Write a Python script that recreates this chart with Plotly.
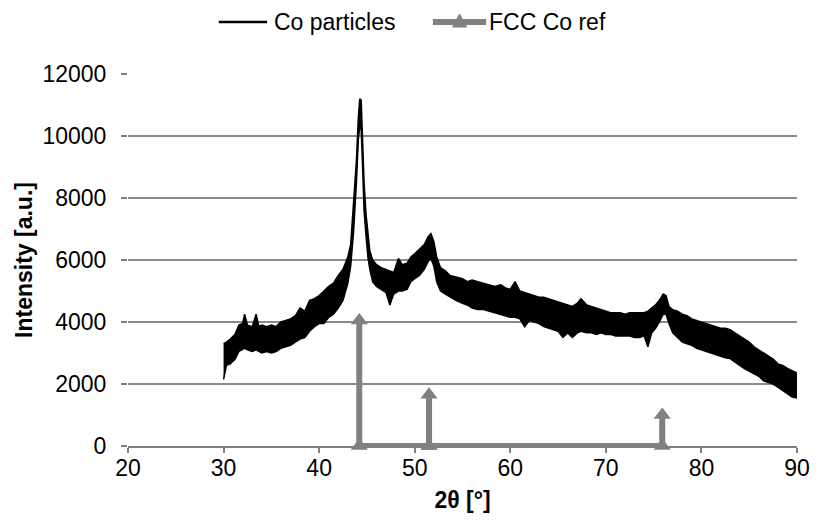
import plotly.graph_objects as go

# --- Co particles XRD pattern: envelope of the noisy band ---
two_theta = [30.0, 30.3, 30.7, 31.2, 31.6, 32.0, 32.2, 32.5, 33.0, 33.4, 33.7, 34.0, 34.5, 35.0, 35.5,
             36.0, 36.5, 37.0, 37.5, 38.0, 38.5, 39.0, 39.5, 40.0, 40.5, 41.0, 41.5, 42.0, 42.5, 43.0,
             43.3, 43.6, 43.9, 44.1, 44.25, 44.4, 44.55, 44.7, 44.9, 45.1, 45.3, 45.6, 46.0, 46.5, 47.0,
             47.4, 47.8, 48.3, 48.7, 49.2, 49.6, 50.0, 50.5, 51.0, 51.4, 51.7, 52.0, 52.3, 52.7, 53.2,
             53.7, 54.3, 55.0, 55.5, 56.0, 56.6, 57.2, 57.8, 58.4, 59.0, 59.5, 60.0, 60.5, 61.0, 61.5,
             62.0, 62.5, 63.0, 63.5, 64.0, 64.5, 65.0, 65.5, 66.0, 66.5, 67.0, 67.4, 68.0, 68.5, 69.0,
             69.5, 70.0, 70.5, 71.0, 71.5, 72.0, 72.5, 73.0, 73.5, 74.0, 74.4, 74.8, 75.2, 75.6, 76.0,
             76.3, 76.6, 77.0, 77.5, 78.0, 78.5, 79.0, 79.5, 80.0, 80.5, 81.0, 81.5, 82.0, 82.5, 83.0,
             83.5, 84.0, 84.5, 85.0, 85.5, 86.0, 86.5, 87.0, 87.5, 88.0, 88.5, 89.0, 89.5, 90.0]
intensity_low = [2150, 2600, 2650, 2800, 3050, 3100, 3150, 3100, 3050, 3100, 3050, 3000, 3050, 3000, 3050,
                 3150, 3200, 3250, 3350, 3450, 3500, 3700, 3850, 3950, 3950, 4150, 4250, 4450, 4700, 5250,
                 5800, 6900, 8500, 9900, 10300, 10200, 9000, 7600, 6800, 6100, 5700, 5300, 5150, 5050, 4950,
                 4550, 4900, 5000, 5000, 5050, 5300, 5400, 5500, 5700, 5950, 6050, 5800, 5300, 5000, 4900,
                 4800, 4700, 4600, 4550, 4450, 4400, 4400, 4350, 4300, 4250, 4200, 4150, 4150, 4100, 3850,
                 4050, 4000, 3950, 3850, 3800, 3750, 3700, 3500, 3650, 3500, 3650, 3700, 3650, 3650, 3600,
                 3650, 3600, 3600, 3550, 3550, 3550, 3550, 3500, 3500, 3550, 3200, 3650, 3800, 4000, 4250,
                 4250, 3950, 3650, 3500, 3350, 3300, 3250, 3150, 3100, 3050, 3000, 2930, 2900, 2850, 2820,
                 2700, 2600, 2500, 2420, 2350, 2250, 2100, 2050, 2000, 1900, 1800, 1700, 1580, 1550]
intensity_high = [3300, 3350, 3450, 3600, 3900, 3950, 4250, 3900, 3850, 4250, 3850, 3900, 3850, 3900, 3850,
                  4000, 4050, 4100, 4200, 4450, 4350, 4700, 4750, 4850, 5000, 5150, 5250, 5500, 5700, 6100,
                  6500, 7700, 9200, 10600, 11200, 11150, 9900, 8500, 7500, 6800, 6300, 6000, 5850, 5750, 5700,
                  5650, 5600, 6050, 5850, 5900, 6100, 6200, 6350, 6500, 6750, 6850, 6600, 6100, 5750, 5650,
                  5500, 5450, 5400, 5300, 5350, 5300, 5250, 5200, 5150, 5200, 5100, 5050, 5300, 5000, 4950,
                  4900, 4850, 4800, 4800, 4750, 4700, 4650, 4600, 4550, 4500, 4600, 4750, 4550, 4500, 4450,
                  4400, 4350, 4300, 4300, 4300, 4250, 4300, 4300, 4300, 4300, 4350, 4450, 4550, 4700, 4900,
                  4850, 4500, 4400, 4350, 4250, 4200, 4100, 4050, 4000, 3950, 3900, 3850, 3800, 3800, 3750,
                  3650, 3550, 3450, 3350, 3200, 3100, 2980, 2900, 2800, 2650, 2600, 2500, 2420, 2350]

# --- FCC Co reference lines (drawn as one connected series) ---
fcc_x = [44.2, 44.2, 51.5, 51.5, 51.5, 75.9, 75.9]
fcc_y = [4050, 0, 0, 1650, 0, 0, 1000]

x_ticks = [20, 30, 40, 50, 60, 70, 80, 90]
y_ticks = [0, 2000, 4000, 6000, 8000, 10000, 12000]
y_tick_labels = ["0", "2000", "4000", "6000", "8000", "10000", "12000"]
series_names = ["Co particles", "FCC Co ref"]

GRAY = "#808080"
FONT = "Liberation Sans, Arial, sans-serif"
FS = 23

fig = go.Figure()

# noisy band: upper edge then lower edge filled to it
fig.add_trace(go.Scatter(x=two_theta, y=intensity_high, mode="lines",
                         line=dict(color="black", width=1.5), showlegend=False,
                         hoverinfo="skip"))
fig.add_trace(go.Scatter(x=two_theta, y=intensity_low, mode="lines", fill="tonexty",
                         fillcolor="black", line=dict(color="black", width=1.5),
                         name=series_names[0], showlegend=False))

fig.add_trace(go.Scatter(x=fcc_x, y=fcc_y, mode="lines+markers", name=series_names[1],
                         line=dict(color=GRAY, width=6),
                         marker=dict(symbol="triangle-up", size=15, color=GRAY),
                         cliponaxis=False, showlegend=False))

# --- legend drawn by hand (Excel-style long sample lines) ---
L, R, T, B = 128, 16, 74, 76
W, H = 822 - L - R, 522 - T - B
px = lambda p: (p - L) / W
py = lambda p: (522 - B - p) / H
ly = py(22)

fig.add_shape(type="line", xref="paper", yref="paper", x0=px(220), x1=px(269), y0=ly, y1=ly,
              line=dict(color="black", width=2.5))
fig.add_annotation(xref="paper", yref="paper", x=px(274), y=ly, xanchor="left", yanchor="middle",
                   text=series_names[0], showarrow=False, font=dict(size=FS, color="black"))
fig.add_shape(type="line", xref="paper", yref="paper", x0=px(437), x1=px(491), y0=ly, y1=ly,
              line=dict(color=GRAY, width=6))
fig.add_shape(type="path", xref="paper", yref="paper", xsizemode="pixel", ysizemode="pixel",
              xanchor=px(464), yanchor=ly, path="M-7,-5 L7,-5 L0,8 Z",
              fillcolor=GRAY, line=dict(color=GRAY, width=1))
fig.add_annotation(xref="paper", yref="paper", x=px(492), y=ly, xanchor="left", yanchor="middle",
                   text=series_names[1], showarrow=False, font=dict(size=FS, color="black"))

fig.update_layout(
    width=822, height=522,
    margin=dict(l=L, r=R, t=T, b=B),
    paper_bgcolor="white", plot_bgcolor="white",
    font=dict(family=FONT, size=FS, color="black"),
    showlegend=False,
)
fig.update_xaxes(range=[20, 90], tickvals=x_ticks, showgrid=False, zeroline=False,
                 showline=True, linecolor=GRAY, linewidth=2,
                 ticks="outside", ticklen=5, tickcolor=GRAY, tickwidth=1.5,
                 ticklabelstandoff=-5,
                 title=dict(text="<b>2θ [°]</b>", font=dict(size=FS), standoff=12))
fig.update_yaxes(range=[0, 12000], tickvals=y_ticks, ticktext=y_tick_labels,
                 showgrid=True, gridcolor="#8a8a8a",
                 gridwidth=1.5, zeroline=False, showline=False,
                 ticks="outside", ticklen=6, tickcolor=GRAY, tickwidth=1.5,
                 ticklabelstandoff=10,
                 title=dict(text="<b>Intensity [a.u.]</b>", font=dict(size=FS), standoff=3))

fig.write_html("out.html")
